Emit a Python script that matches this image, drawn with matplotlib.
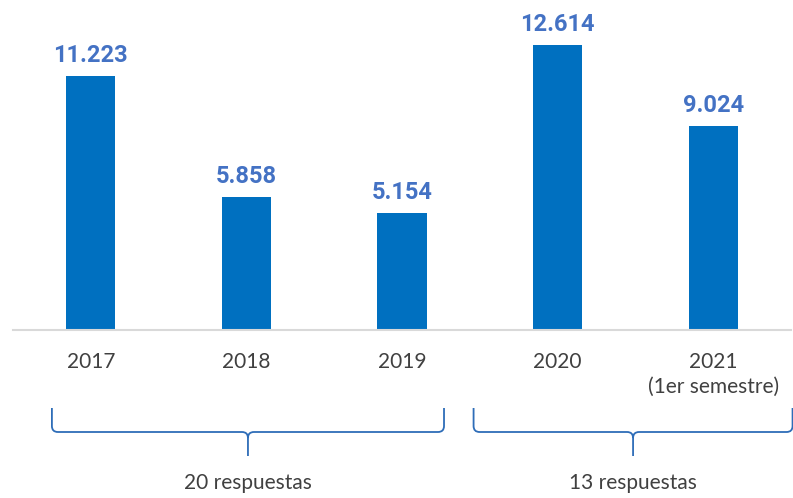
import matplotlib.pyplot as plt
import numpy as np
from matplotlib.path import Path
from matplotlib.patches import PathPatch
from matplotlib.transforms import IdentityTransform

# datos
years = ['2017', '2018', '2019', '2020', '2021\n(1er semestre)']
values = [11.223, 5.858, 5.154, 12.614, 9.024]
labels = ['11.223', '5.858', '5.154', '12.614', '9.024']
groups = ['20 respuestas', '13 respuestas']
group_span = [(-0.25, 2.27), (2.46, 4.51)]

W, H = 793, 498
fig = plt.figure(figsize=(W / 100, H / 100), dpi=100)
base_y = 329.5
ax = fig.add_axes([13 / W, (H - base_y) / H, 778 / W, base_y / H])

x = np.arange(len(values))
ax.bar(x, values, width=0.315, color='#0070C0', zorder=2)
ax.set_xlim(-0.5, 4.5)
ax.set_ylim(0, 14.61)

for xi, v, lab in zip(x, values, labels):
    ax.annotate(lab, (xi, v), xytext=(0, 10), textcoords='offset points',
                ha='center', va='baseline', fontsize=17, fontweight='bold',
                color='#4472C4', family='Roboto')

for s in ['top', 'right', 'left']:
    ax.spines[s].set_visible(False)
ax.spines['bottom'].set_color('#d9d9d9')
ax.spines['bottom'].set_linewidth(1.5)
ax.set_yticks([])
ax.set_xticks(x)
ax.set_xticklabels(years, fontsize=15, color='#404040', family='Lato', linespacing=1.35)
ax.tick_params(axis='x', length=0, pad=16)

fig.canvas.draw()

# llaves
def brace(x0, x1, xm, ytop=408, ymid=432, ybot=456, r=6):
    yy = lambda v: H - v
    verts = [(x0, yy(ytop)), (x0, yy(ymid - r)), (x0, yy(ymid)), (x0 + r, yy(ymid)),
             (xm - r, yy(ymid)), (xm, yy(ymid)), (xm, yy(ymid + r)),
             (xm, yy(ybot)),
             (xm, yy(ymid + r)), (xm, yy(ymid)), (xm + r, yy(ymid)),
             (x1 - r, yy(ymid)), (x1, yy(ymid)), (x1, yy(ymid - r)), (x1, yy(ytop))]
    codes = [Path.MOVETO, Path.LINETO, Path.CURVE3, Path.CURVE3,
             Path.LINETO, Path.CURVE3, Path.CURVE3,
             Path.LINETO,
             Path.MOVETO, Path.CURVE3, Path.CURVE3,
             Path.LINETO, Path.CURVE3, Path.CURVE3, Path.LINETO]
    p = PathPatch(Path(verts, codes), transform=IdentityTransform(), fill=False,
                  edgecolor='#2E6DB8', linewidth=1.3)
    fig.patches.append(p)

for (a, b), g in zip(group_span, groups):
    px0 = ax.transData.transform((a, 0))[0]
    px1 = ax.transData.transform((b, 0))[0]
    pm = (px0 + px1) / 2
    brace(px0, px1, pm)
    fig.text(pm / W, (H - 483) / H, g, ha='center', va='center', fontsize=15,
             color='#404040', family='Lato')

plt.savefig('out.png', dpi=100)
